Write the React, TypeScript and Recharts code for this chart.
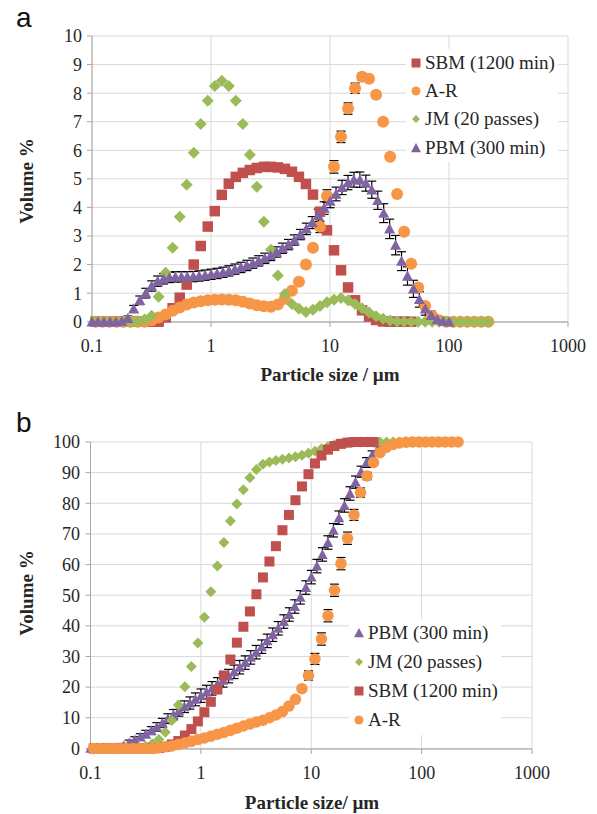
import React from 'react';
import { ScatterChart, Scatter, XAxis, YAxis, CartesianGrid, ErrorBar, Legend } from 'recharts';

const SERIF = '"Liberation Serif", Tinos, "Times New Roman", "DejaVu Serif", "Noto Serif", serif';
const SANS = '"Liberation Sans", Arial, sans-serif';
const TXT = '#262626';
const RED = '#C0504D';
const ORANGE = '#F79646';
const GREEN = '#9BBB59';
const PURPLE = '#8064A2';

// particle size classes (µm)
const SIZES_LA = [0.107, 0.123, 0.140, 0.161, 0.184, 0.211, 0.242, 0.277, 0.317, 0.363, 0.416, 0.476, 0.546, 0.625, 0.716, 0.820, 0.939, 1.076, 1.232, 1.411, 1.616, 1.851, 2.120, 2.428, 2.781, 3.185, 3.649, 4.179, 4.786, 5.482, 6.279, 7.192, 8.238, 9.435, 10.806, 12.377, 14.176, 16.237, 18.598, 21.301, 24.398, 27.944, 32.007, 36.660, 41.989, 48.094, 55.085, 63.093, 72.265, 82.772, 94.803, 108.585, 124.369, 142.453, 163.160, 186.880, 214.049, 245.165];
const SIZES_MS = [0.100, 0.112, 0.126, 0.142, 0.159, 0.178, 0.200, 0.224, 0.252, 0.283, 0.317, 0.356, 0.399, 0.448, 0.502, 0.564, 0.632, 0.710, 0.796, 0.893, 1.002, 1.125, 1.262, 1.416, 1.589, 1.783, 2.000, 2.244, 2.518, 2.825, 3.170, 3.557, 3.991, 4.477, 5.024, 5.637, 6.325, 7.096, 7.962, 8.934, 10.024, 11.247, 12.619, 14.159, 15.887, 17.825, 20.000, 22.440, 25.179, 28.251, 31.698, 35.566, 39.905, 44.774, 50.238, 56.368, 63.246, 70.963, 79.621, 89.337, 100.237];

const X_TICKS = [0.1, 1, 10, 100, 1000];
const Y_TICKS_A = [0, 1, 2, 3, 4, 5, 6, 7, 8, 9, 10];
const Y_TICKS_B = [0, 10, 20, 30, 40, 50, 60, 70, 80, 90, 100];

// ---- panel a : volume density (%)
const SBM_A = [0, 0, 0, 0, 0, 0, 0, 0, 0, 0,
  0.15, 0.47, 0.84, 1.3, 2.0, 2.65, 3.33, 3.87, 4.44, 4.83,
  5.07, 5.21, 5.31, 5.38, 5.42, 5.42, 5.4, 5.35, 5.25, 5.07,
  4.82, 4.45, 3.85, 3.2, 2.5, 1.8, 1.2, 0.75, 0.4, 0.18,
  0.06, 0.01, 0, 0, 0, 0];
const AR_A = [0, 0, 0, 0, 0, 0, 0, 0,
  0.05, 0.15, 0.25, 0.38, 0.5, 0.6, 0.67, 0.72, 0.75, 0.77,
  0.78, 0.77, 0.75, 0.7, 0.64, 0.58, 0.54, 0.52, 0.6, 0.8,
  1.08, 1.4, 2.0, 2.59, 3.32, 4.4, 5.42, 6.47, 7.46, 8.17,
  8.57, 8.5, 7.94, 7.0, 5.77, 4.47, 3.15, 2.03, 1.2, 0.55,
  0.2, 0.05, 0, 0, 0, 0, 0, 0, 0];
const AR_A_ERR = [0, 0, 0, 0, 0, 0, 0, 0, 0, 0, 0, 0, 0, 0, 0, 0, 0, 0, 0, 0, 0, 0, 0, 0, 0, 0, 0, 0, 0, 0, 0,
  0.08, 0.2, 0.22, 0.22, 0.2, 0.2, 0.18, 0.12, 0.08,
  0, 0, 0, 0, 0, 0, 0, 0, 0, 0, 0, 0, 0, 0, 0, 0, 0];
const JM_A = [0, 0, 0, 0, 0, 0,
  0.02, 0.08, 0.21, 0.87, 1.71, 2.59, 3.67, 4.79, 5.91, 6.92,
  7.73, 8.25, 8.43, 8.25, 7.73, 6.92, 5.84, 4.72, 3.5, 2.52,
  1.62, 0.97, 0.62, 0.45, 0.34, 0.42, 0.55, 0.68, 0.77, 0.83,
  0.75, 0.62, 0.47, 0.32, 0.19, 0.1, 0.04, 0.01,
  0, 0, 0, 0, 0, 0, 0, 0, 0, 0, 0, 0, 0];
const PBM_A = [0, 0, 0, 0, 0,
  0.02, 0.12, 0.45, 0.75, 1.0, 1.25, 1.42, 1.5, 1.55, 1.57,
  1.57, 1.57, 1.58, 1.6, 1.63, 1.66, 1.69, 1.73, 1.78, 1.84,
  1.9, 1.97, 2.05, 2.13, 2.22, 2.32, 2.44, 2.57, 2.7, 2.86,
  3.05, 3.25, 3.47, 3.72, 3.98, 4.22, 4.47, 4.7, 4.87, 4.97,
  4.97, 4.85, 4.62, 4.25, 3.8, 3.25, 2.68, 2.12, 1.6, 1.15,
  0.78, 0.45, 0.22, 0.08, 0.02, 0];
const PBM_A_ERR = [0, 0, 0, 0, 0, 0,
  0.08, 0.12, 0.15, 0.17, 0.18, 0.18, 0.18, 0.18, 0.18, 0.18,
  0.18, 0.18, 0.18, 0.18, 0.18, 0.18, 0.18, 0.18, 0.18, 0.18,
  0.18, 0.18, 0.18, 0.18, 0.18, 0.18, 0.18, 0.18, 0.18, 0.18,
  0.2, 0.21, 0.22, 0.22, 0.23, 0.24, 0.25, 0.25, 0.26, 0.27,
  0.28, 0.3, 0.32, 0.33, 0.34, 0.34, 0.33, 0.32, 0.3, 0.27,
  0.22, 0.15, 0.08, 0.03, 0];

// ---- panel b : cumulative volume (%)
const PBM_B = [0, 0, 0, 0, 0,
  0.3, 0.9, 1.8, 2.8, 3.7, 4.7, 5.8, 7.0, 8.3, 9.7,
  11.0, 12.3, 13.6, 14.8, 16.0, 17.2, 18.4, 19.6, 20.9, 22.2,
  23.6, 25.0, 26.5, 28.0, 29.7, 31.4, 33.2, 35.1, 37.1, 39.2,
  41.4, 43.7, 46.3, 49.3, 52.5, 55.9, 59.5, 63.3, 67.2, 71.2,
  75.3, 79.3, 83.2, 86.9, 90.3, 93.3, 95.7, 97.5, 98.7, 99.4,
  99.8, 100, 100, 100, 100, 100];
const PBM_B_ERR = [0, 0, 0, 0, 0,
  0.5, 0.7, 0.9, 1.0, 1.1, 1.2, 1.3, 1.4, 1.5, 1.6,
  1.7, 1.8, 1.9, 2.0, 2.1, 2.2, 2.2, 2.2, 2.2, 2.2,
  2.2, 2.2, 2.2, 2.2, 2.2, 2.2, 2.2, 2.2, 2.2, 2.2,
  2.2, 2.2, 2.2, 2.2, 2.2, 2.2, 2.2, 2.2, 2.2, 2.2,
  2.2, 2.2, 2.2, 2.0, 1.8, 1.6, 1.4, 1.0, 0.6, 0.3,
  0.1, 0, 0, 0, 0, 0];
const JM_B = [0, 0, 0, 0, 0, 0,
  0.05, 0.25, 0.7, 1.5, 2.9, 5.3, 9.1, 14.2, 20.1, 26.7,
  34.4, 42.8, 51.1, 59.5, 67.2, 74.2, 79.8, 84.4, 88.3, 91.0,
  92.7, 93.5, 94.0, 94.4, 94.8, 95.2, 95.7, 96.3, 97.0, 97.8,
  98.5, 99.1, 99.5, 99.8, 100, 100, 100, 100, 100, 100,
  100, 100, 100, 100, 100];
const SBM_B = [0, 0, 0, 0, 0, 0, 0, 0, 0, 0,
  0.1, 0.5, 1.3, 2.4, 4.2, 6.3, 8.8, 11.8, 15.2, 19.2,
  23.8, 29.0, 34.5, 39.7, 44.7, 50.3, 55.8, 61.0, 66.0, 71.2,
  76.2, 81.0, 85.5, 89.5, 93.0, 95.6, 97.5, 98.7, 99.4, 99.8,
  100, 100, 100, 100];
const AR_B = [0, 0, 0, 0, 0, 0, 0, 0, 0, 0,
  0.2, 0.5, 0.8, 1.3, 1.8, 2.3, 2.9, 3.4, 4.0, 4.6,
  5.2, 5.9, 6.6, 7.3, 8.0, 8.6, 9.2, 10.0, 10.9, 12.0,
  13.8, 16.0, 19.5, 23.8, 29.2, 35.7, 43.3, 51.6, 60.3, 68.6,
  76.2, 83.5, 88.9, 93.3, 96.5, 98.3, 99.2, 99.7, 99.9, 100,
  100, 100, 100, 100, 100, 100, 100];
const AR_B_ERR = [0, 0, 0, 0, 0, 0, 0, 0, 0, 0, 0, 0, 0, 0, 0, 0, 0, 0, 0, 0, 0, 0, 0, 0, 0, 0, 0, 0, 0, 0, 0, 0, 0,
  1.5, 1.8, 2, 2, 2, 2, 2, 1.8, 1.5, 1.2, 0.8,
  0, 0, 0, 0, 0, 0, 0, 0, 0, 0, 0, 0, 0];

const NAMES = { SBM: 'SBM (1200 min)', AR: 'A-R', JM: 'JM (20 passes)', PBM: 'PBM (300 min)' };

type Kind = 'square' | 'circle' | 'diamond' | 'triangle';
const KIND: Record<string, Kind> = { [NAMES.SBM]: 'square', [NAMES.AR]: 'circle', [NAMES.JM]: 'diamond', [NAMES.PBM]: 'triangle' };
const COLOR: Record<string, string> = { [NAMES.SBM]: RED, [NAMES.AR]: ORANGE, [NAMES.JM]: GREEN, [NAMES.PBM]: PURPLE };

const zip = (xs: number[], ys: number[], errs?: number[]) =>
  ys.map((y, i) => ({ x: xs[i], y, err: errs ? errs[i] : 0 }));

function Marker({ kind, cx, cy, color, s }: { kind: Kind; cx: number; cy: number; color: string; s: number }) {
  const h = s / 2;
  if (kind === 'square') return <rect x={cx - h} y={cy - h} width={s} height={s} fill={color} />;
  if (kind === 'circle') return <circle cx={cx} cy={cy} r={h} fill={color} />;
  if (kind === 'diamond')
    return <polygon points={`${cx},${cy - h} ${cx + h},${cy} ${cx},${cy + h} ${cx - h},${cy}`} fill={color} />;
  return <polygon points={`${cx},${cy - h} ${cx + h},${cy + h * 0.85} ${cx - h},${cy + h * 0.85}`} fill={color} />;
}

const shapeOf = (kind: Kind, color: string, s: number) => (p: any) =>
  p.cx == null ? <g /> : <Marker kind={kind} cx={p.cx} cy={p.cy} color={color} s={s} />;

const LEG_SIZE: Record<Kind, number> = { square: 9, circle: 9, diamond: 8, triangle: 10 };

function LegendBox({ names, rowH }: { names: string[]; rowH: number }) {
  return (
    <div style={{ background: '#fff', padding: '0 3px', fontFamily: SERIF, fontSize: 19, color: TXT }}>
      {names.map((n) => (
        <div key={n} style={{ display: 'flex', alignItems: 'center', height: rowH, whiteSpace: 'nowrap' }}>
          <svg width={14} height={14} style={{ marginRight: 2, flex: 'none' }}>
            <Marker kind={KIND[n]} cx={7} cy={7} color={COLOR[n]} s={LEG_SIZE[KIND[n]]} />
          </svg>
          <span>{n}</span>
        </div>
      ))}
    </div>
  );
}

const tickStyle = { fontSize: 18, fill: TXT, fontFamily: SERIF };
const axisStroke = { stroke: '#a6a6a6' };

const abs = (l: number, t: number, extra: any = {}) => ({ position: 'absolute' as const, left: l, top: t, ...extra });

export default function App() {
  return (
    <div style={{ position: 'absolute', left: 0, top: 0, width: 597, height: 814, background: '#fff', fontFamily: SERIF }}>
      {/* panel a */}
      <div style={abs(0, 0)}>
        <ScatterChart width={597} height={400} margin={{ top: 36, right: 29, bottom: 48, left: 32 }} style={{ fontFamily: SERIF }}>
          <CartesianGrid stroke="#d9d9d9" />
          <XAxis type="number" dataKey="x" scale="log" domain={[0.1, 1000]} ticks={X_TICKS} interval={0}
            tickFormatter={(v: number) => String(v)} tick={tickStyle} tickSize={5} tickMargin={12}
            axisLine={axisStroke} tickLine={axisStroke} height={30} />
          <YAxis type="number" dataKey="y" domain={[0, 10]} ticks={Y_TICKS_A} interval={0} tick={tickStyle}
            tickSize={5} tickMargin={5} axisLine={axisStroke} tickLine={axisStroke} width={60} />
          <Scatter name={NAMES.SBM} data={zip(SIZES_LA, SBM_A)} fill={RED} shape={shapeOf('square', RED, 10.5)} isAnimationActive={false} />
          <Scatter name={NAMES.AR} data={zip(SIZES_LA, AR_A, AR_A_ERR)} fill={ORANGE} shape={shapeOf('circle', ORANGE, 12)} isAnimationActive={false}>
            <ErrorBar dataKey="err" direction="y" width={4.5} stroke="#000" strokeWidth={1.2} />
          </Scatter>
          <Scatter name={NAMES.JM} data={zip(SIZES_LA, JM_A)} fill={GREEN} shape={shapeOf('diamond', GREEN, 12)} isAnimationActive={false} />
          <Scatter name={NAMES.PBM} data={zip(SIZES_MS, PBM_A, PBM_A_ERR)} fill={PURPLE} shape={shapeOf('triangle', PURPLE, 11)} isAnimationActive={false}>
            <ErrorBar dataKey="err" direction="y" width={4.5} stroke="#000" strokeWidth={1.2} />
          </Scatter>
          <Legend layout="vertical" align="center" verticalAlign="middle"
            wrapperStyle={{ left: 406, top: 49, width: 'auto', height: 'auto' }}
            content={() => <LegendBox names={[NAMES.SBM, NAMES.AR, NAMES.JM, NAMES.PBM]} rowH={28.2} />} />
        </ScatterChart>
      </div>
      {/* panel b */}
      <div style={abs(0, 400)}>
        <ScatterChart width={597} height={414} margin={{ top: 42, right: 65, bottom: 35, left: 30.5 }} style={{ fontFamily: SERIF }}>
          <CartesianGrid stroke="#d9d9d9" />
          <XAxis type="number" dataKey="x" scale="log" domain={[0.1, 1000]} ticks={X_TICKS} interval={0}
            tickFormatter={(v: number) => String(v)} tick={tickStyle} tickSize={5} tickMargin={12}
            axisLine={axisStroke} tickLine={axisStroke} height={30} />
          <YAxis type="number" dataKey="y" domain={[0, 100]} ticks={Y_TICKS_B} interval={0} tick={tickStyle}
            tickSize={5} tickMargin={5.5} axisLine={axisStroke} tickLine={axisStroke} width={60} />
          <Scatter name={NAMES.PBM} data={zip(SIZES_MS, PBM_B, PBM_B_ERR)} fill={PURPLE} shape={shapeOf('triangle', PURPLE, 10.5)} isAnimationActive={false}>
            <ErrorBar dataKey="err" direction="y" width={4.5} stroke="#000" strokeWidth={1.2} />
          </Scatter>
          <Scatter name={NAMES.JM} data={zip(SIZES_LA, JM_B)} fill={GREEN} shape={shapeOf('diamond', GREEN, 11)} isAnimationActive={false} />
          <Scatter name={NAMES.SBM} data={zip(SIZES_LA, SBM_B)} fill={RED} shape={shapeOf('square', RED, 10)} isAnimationActive={false} />
          <Scatter name={NAMES.AR} data={zip(SIZES_LA, AR_B, AR_B_ERR)} fill={ORANGE} shape={shapeOf('circle', ORANGE, 11.5)} isAnimationActive={false}>
            <ErrorBar dataKey="err" direction="y" width={4.5} stroke="#000" strokeWidth={1.2} />
          </Scatter>
          <Legend layout="vertical" align="center" verticalAlign="middle"
            wrapperStyle={{ left: 349, top: 218.5, width: 'auto', height: 'auto' }}
            content={() => <LegendBox names={[NAMES.PBM, NAMES.JM, NAMES.SBM, NAMES.AR]} rowH={29} />} />
        </ScatterChart>
      </div>
      {/* labels */}
      <div style={abs(16, 4.3, { fontFamily: SANS, fontSize: 28, lineHeight: '28px', color: '#111' })}>a</div>
      <div style={abs(16, 409.3, { fontFamily: SANS, fontSize: 28, lineHeight: '28px', color: '#111' })}>b</div>
      <div style={abs(330, 374.5, { transform: 'translate(-50%,-50%)', fontWeight: 'bold', fontSize: 19, color: TXT, whiteSpace: 'nowrap' })}>Particle size / µm</div>
      <div style={abs(312, 803, { transform: 'translate(-50%,-50%)', fontWeight: 'bold', fontSize: 19, color: TXT, whiteSpace: 'nowrap' })}>Particle size/ µm</div>
      <div style={abs(27, 181, { transform: 'translate(-50%,-50%) rotate(-90deg)', fontWeight: 'bold', fontSize: 19, color: TXT, whiteSpace: 'nowrap' })}>Volume %</div>
      <div style={abs(27, 593, { transform: 'translate(-50%,-50%) rotate(-90deg)', fontWeight: 'bold', fontSize: 19, color: TXT, whiteSpace: 'nowrap' })}>Volume %</div>
    </div>
  );
}
